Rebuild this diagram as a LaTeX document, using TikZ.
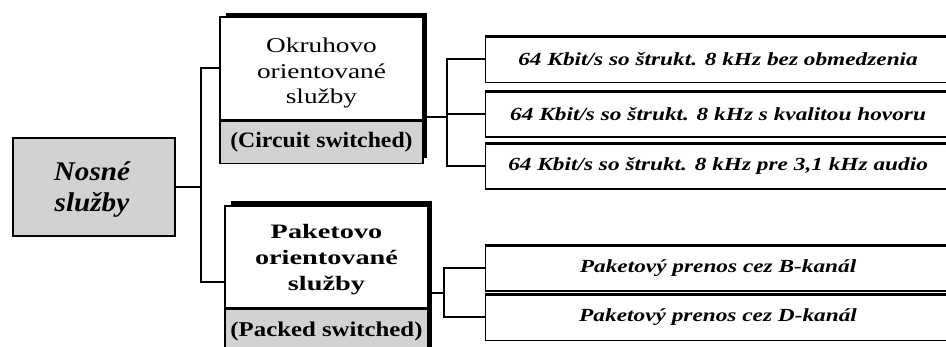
\documentclass[tikz,border=0pt]{standalone}
\usepackage{fontspec}
\setmainfont{Liberation Serif}
\newcommand{\stretchby}[1]{\addfontfeature{FakeStretch=#1}}
\definecolor{boxgray}{HTML}{D2D2D2}
\begin{document}
\begin{tikzpicture}[x=1pt,y=-1pt,
  conn/.style={line width=2pt},
  box/.style={draw=black, line width=1.2pt, rectangle, inner sep=0pt, align=center, fill=white},
  txt/.style={inner sep=0pt, align=center},
  rbox/.style={box, minimum width=465, minimum height=46, anchor=west,
    font=\fontsize{18.5}{20}\selectfont\bfseries\itshape\stretchby{1.26}},
  topbar/.style={line width=3.2pt},
  shadow/.style={fill=black}]
\useasboundingbox (0,0) rectangle (946,347);
\fill[white] (0,0) rectangle (946,347);
\begin{scope}
\clip (0,0) rectangle (946,347);
% shadows of the left boxes
\fill[shadow] (226,13) rectangle (427,158);
\fill[shadow] (231,201) rectangle (432,360);
% root
\node[box, fill=boxgray, minimum width=162, minimum height=98] (nos) at (94,187) {};
\node[txt, font=\fontsize{27}{31}\selectfont\bfseries\itshape\stretchby{1.08}] (nost) at (92,190) {Nosné\\služby};
% circuit switched
\node[box, minimum width=203, minimum height=103] (okr) at (321.5,68.5) {};
\node[txt, font=\fontsize{21}{25.5}\selectfont\stretchby{1.3}] (okrt) at (321.5,73) {Okruhovo\\orientované\\služby};
\node[box, fill=boxgray, minimum width=203, minimum height=42, anchor=north,
  font=\fontsize{22}{25}\selectfont\bfseries\stretchby{1.08}] (okrb) at (okr.south) {(Circuit switched)};
% packet switched
\node[box, minimum width=203, minimum height=102] (pak) at (326.5,257) {};
\node[txt, font=\fontsize{20.5}{26}\selectfont\bfseries\stretchby{1.38}] (pakt) at (326.5,260) {Paketovo\\orientované\\služby};
\node[box, fill=boxgray, minimum width=203, minimum height=44, anchor=north,
  font=\fontsize{21}{25}\selectfont\bfseries\stretchby{1.18}] (pakb) at (pak.south) {(Packed switched)};
% right boxes
\node[rbox] (c1) at (485,59.5) {64 Kbit/s so štrukt. 8 kHz bez obmedzenia};
\node[rbox] (c2) at (485,114) {64 Kbit/s so štrukt. 8 kHz s kvalitou hovoru};
\node[rbox] (c3) at (485,166) {64 Kbit/s so štrukt. 8 kHz pre 3,1 kHz audio};
\node[rbox] (p1) at (485,268) {Paketový prenos cez B-kanál};
\node[rbox] (p2) at (485,317.5) {Paketový prenos cez D-kanál};
\foreach \n in {c1,c2,c3,p1,p2}{
  \draw[topbar] ([yshift=-1pt]\n.north west) -- ([yshift=-1pt]\n.north east);
}
% connectors
\draw[conn] (nos.east) -- ++(25,0) coordinate (j1) |- (okr.west);
\draw[conn] (j1) |- ([yshift=-25pt]pak.west);
\draw[conn] ([yshift=4pt]okrb.north east) -- ++(23,0) coordinate (j2) |- (c1.west);
\draw[conn] (j2) |- (c2.west);
\draw[conn] (j2) |- (c3.west);
\draw[conn] ([yshift=-36pt]pak.east) -- ++(15,0) coordinate (j3) |- (p1.west);
\draw[conn] (j3) |- (p2.west);
\end{scope}
\end{tikzpicture}
\end{document}
